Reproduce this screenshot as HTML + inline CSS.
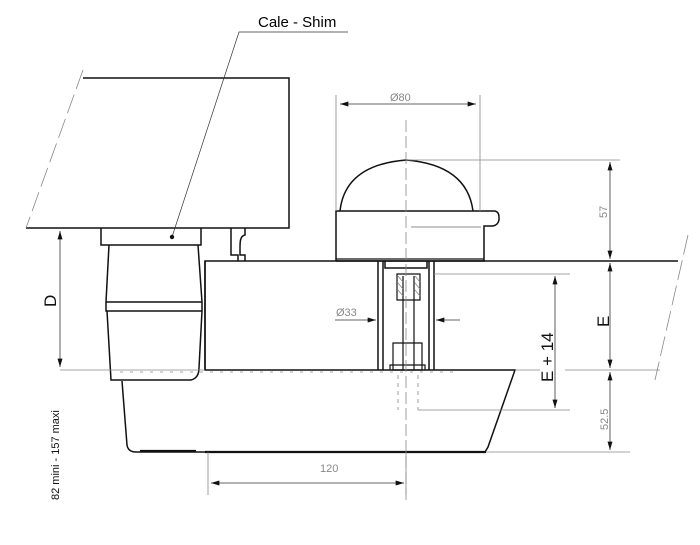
<!DOCTYPE html>
<html><head><meta charset="utf-8"><style>html,body{margin:0;padding:0;background:#fff}svg{display:block}</style></head><body>
<svg width="700" height="545" viewBox="0 0 700 545" xmlns="http://www.w3.org/2000/svg" font-family="Liberation Sans, sans-serif">
<defs>
<marker id="a" viewBox="0 0 10 6" refX="10" refY="3" markerWidth="9" markerHeight="5" orient="auto-start-reverse" markerUnits="userSpaceOnUse"><path d="M0,0L10,3L0,6z" fill="#111"/></marker>
</defs>
<g fill="none" stroke="#111" stroke-width="1.5">
<path d="M83,78H289V228H26"/>
<path d="M101,228V245H201V228"/>
<path d="M231,228V255H238V261M245,228V235C240,236 240,242 240,248V255H245V261"/>
<path d="M109,245L106,302H202L198,245M106,302V311H202V302M107,311L111,380H191Q199,378 199,368L202,311"/>
<path d="M122,381L127,445Q128,452 136,452H485L488,447L515,370H205V261H678"/>
<path d="M205,261V370" />
<path d="M205,452H486" stroke-width="2.2"/>
<path d="M140,451H196" stroke-width="2.2"/>
<path d="M340,211Q345,165 406,160Q467,165 473,211"/>
<path d="M336,261V211H495Q499,212 499,217V220Q498,225 493,226H484V261H336"/>
<path d="M336,259H484" stroke-width="1.2"/>
<path d="M411,227H481" stroke-width="0.7" stroke="#666"/>
<path d="M378,261V370M383,261V370M429,261V370M434,261V370M385,261V268H427V261"/>
<path d="M397,274V300H420V274ZM403,276V370M414,276V370M393,343V370H422V343Z" stroke-width="1.2"/>
<path d="M390,370V365H425V370" stroke-width="1.2"/>
</g>
<g fill="none" stroke="#888" stroke-width="0.8">
<path d="M398,276L403,282M398,283L403,289M398,290L403,296M415,276L420,282M415,283L420,289M415,290L420,296"/>
<path d="M60,370H205M515,370H540M565,370H660"/>
<path d="M120,372H460" stroke-dasharray="3,7"/>
<path d="M398,375V410M418,375V410" stroke-dasharray="4,4"/>
<path d="M406,120V500" stroke-dasharray="12,4"/>
<path d="M336,95V211M480,95V211M406,160H620M434,274H570M418,410H570M486,452H630M208,452V495M406,452V495"/>
<path d="M83,70L26,228M688,235L655,380" stroke-dasharray="20,6" />
</g>
<g stroke="#333" stroke-width="0.8" fill="none">
<path d="M340,104H476" marker-start="url(#a)" marker-end="url(#a)"/>
<path d="M610,162V259" marker-start="url(#a)" marker-end="url(#a)"/>
<path d="M610,263V368" marker-start="url(#a)" marker-end="url(#a)"/>
<path d="M610,372V450" marker-start="url(#a)" marker-end="url(#a)"/>
<path d="M555,276V408" marker-start="url(#a)" marker-end="url(#a)"/>
<path d="M60,231V367" marker-start="url(#a)" marker-end="url(#a)"/>
<path d="M211,483H404" marker-start="url(#a)" marker-end="url(#a)"/>
<path d="M335,320H376" marker-end="url(#a)"/>
<path d="M460,320H436" marker-end="url(#a)"/>
<path d="M172,237L239,32H348" stroke-width="0.7"/>
</g>
<circle cx="172" cy="237" r="2.2" fill="#111"/>
<text x="258" y="27" font-size="15">Cale  -  Shim</text>
<text x="390" y="101" font-size="11" fill="#888">Ø80</text>
<text x="336" y="316" font-size="11" fill="#888">Ø33</text>
<text x="320" y="472" font-size="11" fill="#888">120</text>
<text transform="translate(607,218) rotate(-90)" font-size="11" fill="#888">57</text>
<text transform="translate(608,430) rotate(-90)" font-size="11" fill="#888">52.5</text>
<text transform="translate(609,327) rotate(-90)" font-size="17" fill="#111">E</text>
<text transform="translate(553,382) rotate(-90)" font-size="17" fill="#111">E  +  14</text>
<text transform="translate(56,307) rotate(-90)" font-size="17" fill="#111">D</text>
<text transform="translate(59,500) rotate(-90)" font-size="11" fill="#111">82  mini  -  157  maxi</text>
</svg>
</body></html>
